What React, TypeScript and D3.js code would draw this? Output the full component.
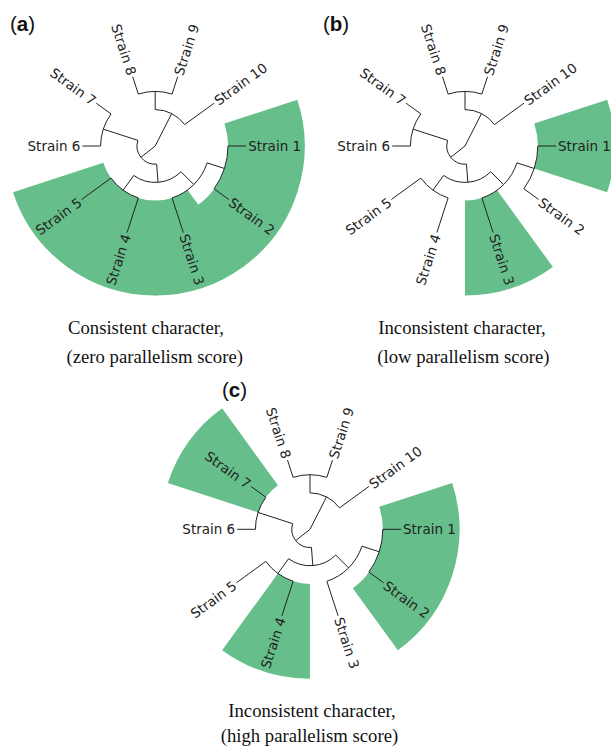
import React from "react";
import * as d3 from "d3";

// tree: branch lengths in tree units
type TreeNode = { name: string; len: number; children?: TreeNode[] };

const tree: TreeNode = {
  name: "root", len: 0, children: [
    { name: "B", len: 1, children: [
      { name: "C", len: 1, children: [
        { name: "E", len: 1, children: [
          { name: "F", len: 1, children: [
            { name: "Strain 1", len: 1 },
            { name: "Strain 2", len: 1 },
          ] },
          { name: "Strain 3", len: 2 },
        ] },
        { name: "G", len: 1, children: [
          { name: "Strain 4", len: 2 },
          { name: "Strain 5", len: 2 },
        ] },
      ] },
      { name: "D", len: 2, children: [
        { name: "Strain 6", len: 1 },
        { name: "Strain 7", len: 1 },
      ] },
    ] },
    { name: "A", len: 2, children: [
      { name: "H", len: 1, children: [
        { name: "Strain 8", len: 1 },
        { name: "Strain 9", len: 1 },
      ] },
      { name: "Strain 10", len: 2 },
    ] },
  ],
};

const panelLetters = ["a", "b", "c"];
const highlightA = ["Strain 1", "Strain 2", "Strain 3", "Strain 4", "Strain 5"];
const highlightB = ["Strain 1", "Strain 3"];
const highlightC = ["Strain 1", "Strain 2", "Strain 4", "Strain 7"];
const captionA = ["Consistent character,", "(zero parallelism score)"];
const captionB = ["Inconsistent character,", "(low parallelism score)"];
const captionC = ["Inconsistent character,", "(high parallelism score)"];

const GREEN = "#66bf8a";
const INK = "#222";
const OUTER = 149.5;

const root = d3.hierarchy<TreeNode>(tree);
d3.cluster<TreeNode>().size([360, 1]).separation(() => 1)(root);
const leafList = root.leaves();
const nLeaves = leafList.length;
const halfSlot = 180 / nLeaves;
const maxLen = 5;
const rScale = d3.scaleLinear().domain([0, maxLen]).range([0, 91]);

const info = new Map<any, { r: number; a: number }>();
root.eachBefore((n: any) => {
  const dist = (n.parent ? n.parent.dist : 0) + n.data.len;
  n.dist = dist;
  info.set(n, { r: rScale(dist), a: n.x - halfSlot });
});

const rad = (deg: number) => (deg * Math.PI) / 180;
const pt = (r: number, a: number) => [r * Math.cos(rad(a)), r * Math.sin(rad(a))];

// elbow link: arc at the parent's radius, then a radial segment out to the child
const linkPath = (p: any, c: any) => {
  const P = info.get(p)!, C = info.get(c)!;
  const end = pt(C.r, C.a);
  if (P.r === 0) return `M0,0L${end[0]},${end[1]}`;
  const s = pt(P.r, P.a), m = pt(P.r, C.a);
  const sweep = C.a > P.a ? 1 : 0;
  return `M${s[0]},${s[1]}A${P.r},${P.r} 0 0 ${sweep} ${m[0]},${m[1]}L${end[0]},${end[1]}`;
};

const wedge = d3.arc<any>();

const Tree = ({ cx, cy, highlight }: { cx: number; cy: number; highlight: string[] }) => {
  const links = root.links();
  const isOn = (i: number) => highlight.includes(leafList[(i + nLeaves) % nLeaves].data.name);
  return (
    <g transform={`translate(${cx},${cy})`}>
      {leafList.map((l, i) => {
        if (!isOn(i)) return null;
        const L = info.get(l)!, P = info.get(l.parent)!;
        // small overlap with highlighted neighbours hides anti-aliasing seams
        const padS = isOn(i - 1) ? 0.3 : 0;
        const padE = isOn(i + 1) ? 0.3 : 0;
        const d = wedge({
          innerRadius: P.r,
          outerRadius: OUTER,
          startAngle: rad(L.a - halfSlot - padS + 90),
          endAngle: rad(L.a + halfSlot + padE + 90),
        });
        return <path key={l.data.name} d={d || ""} fill={GREEN} />;
      })}
      {links.map((lk, i) => (
        <path key={i} d={linkPath(lk.source, lk.target)} fill="none" stroke={INK} strokeWidth={1} />
      ))}
      {leafList.map((l) => {
        const L = info.get(l)!;
        const a = ((L.a % 360) + 360) % 360;
        const left = a > 90 && a < 270;
        return (
          <text
            key={l.data.name}
            transform={`rotate(${L.a}) translate(${L.r + 2},0)${left ? " rotate(180)" : ""}`}
            textAnchor={left ? "end" : "start"}
            dominantBaseline="central"
            fontFamily="DejaVu Sans"
            fontSize={13.5}
            fill={INK}
          >
            {l.data.name}
          </text>
        );
      })}
    </g>
  );
};

const Caption = ({ x, y, lines, gap }: { x: number[]; y: number; lines: string[]; gap: number }) => (
  <g fontFamily="Liberation Serif" fontSize={18.7} fill="#111">
    {lines.map((t, i) => (
      <text key={i} x={x[i]} y={y + i * gap}>{t}</text>
    ))}
  </g>
);

const Label = ({ x, y, letter }: { x: number; y: number; letter: string }) => (
  <text x={x} y={y} fontFamily="Liberation Sans" fontSize={20.5} fill="#111">
    (<tspan fontWeight="bold">{letter}</tspan>)
  </text>
);

export default function App() {
  return (
    <svg width={611} height={746} style={{ position: "absolute", left: 0, top: 0, background: "#fff" }}>
      <Tree cx={155.2} cy={146} highlight={highlightA} />
      <Tree cx={465} cy={146} highlight={highlightB} />
      <Tree cx={310} cy={529.3} highlight={highlightC} />
      <Label x={10} y={30.7} letter={panelLetters[0]} />
      <Label x={323} y={30.7} letter={panelLetters[1]} />
      <Label x={222} y={397} letter={panelLetters[2]} />
      <Caption x={[68, 66.5]} y={333.5} gap={29.2} lines={captionA} />
      <Caption x={[378.3, 377.3]} y={333.5} gap={29.2} lines={captionB} />
      <Caption x={[228.3, 220.7]} y={717} gap={25} lines={captionC} />
    </svg>
  );
}
